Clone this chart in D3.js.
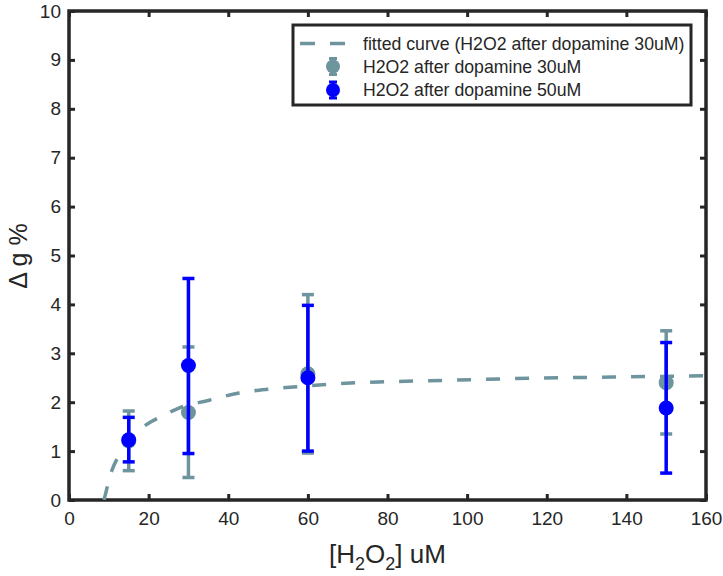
<!DOCTYPE html>
<html>
<head>
<meta charset="utf-8">
<script src="https://cdn.jsdelivr.net/npm/d3@7"></script>
<style>
  body { margin: 0; background: #fff; }
  text { font-family: "Liberation Sans", Arial, sans-serif; fill: #262626; }
</style>
</head>
<body>
<div class="chart"></div>
<script>
// Set H/W/M
const svgWidth = 723;
const svgHeight = 576;
const margin = { top: 11, right: 17, bottom: 76, left: 69 };
const width = svgWidth - margin.left - margin.right;
const height = svgHeight - margin.top - margin.bottom;

// data
const xValues = [15, 30, 60, 150];
const grayMean = [1.21, 1.79, 2.58, 2.40];
const grayLow = [0.60, 0.46, 0.96, 1.35];
const grayHigh = [1.82, 3.13, 4.20, 3.46];
const blueMean = [1.23, 2.75, 2.50, 1.88];
const blueLow = [0.78, 0.95, 1.00, 0.55];
const blueHigh = [1.69, 4.53, 3.98, 3.22];
const fitX = [8.8, 10.8, 12.6, 16.3, 20.6, 23, 27.6, 35.2, 42.7, 50.5, 58, 65.6, 80.7, 95.7, 110, 133, 160];
const fitY = [0, 0.61, 0.92, 1.33, 1.6, 1.7, 1.88, 2.04, 2.19, 2.27, 2.32, 2.37, 2.42, 2.45, 2.48, 2.51, 2.54];
const xTicks = [0, 20, 40, 60, 80, 100, 120, 140, 160];
const yTicks = [0, 1, 2, 3, 4, 5, 6, 7, 8, 9, 10];
const legendLabels = [
  "fitted curve (H2O2 after dopamine 30uM)",
  "H2O2 after dopamine 30uM",
  "H2O2 after dopamine 50uM"
];

const grayColor = "#6e949e";
const blueColor = "#0000ff";
const axisColor = "#262626";

const svg = d3.select(".chart")
  .append("svg")
  .attr("width", svgWidth)
  .attr("height", svgHeight);

const chartGroup = svg.append("g")
  .attr("transform", `translate(${margin.left}, ${margin.top})`);

const x = d3.scaleLinear().domain([0, 160]).range([0, width]);
const y = d3.scaleLinear().domain([0, 10]).range([height, 0]);

// clip for the plotted marks
svg.append("defs").append("clipPath").attr("id", "plotclip")
  .append("rect").attr("width", width).attr("height", height);

// axes (ticks inward, box on all sides)
const tickLen = 6;
function styleAxis(g) {
  g.select(".domain").remove();
  g.selectAll(".tick line").attr("stroke", axisColor).attr("stroke-width", 3);
  g.selectAll(".tick text").attr("font-size", 19).style("fill", axisColor);
}

chartGroup.append("g")
  .attr("transform", `translate(0, ${height})`)
  .call(d3.axisBottom(x).tickValues(xTicks).tickSize(-tickLen).tickPadding(12))
  .call(styleAxis);

chartGroup.append("g")
  .call(d3.axisLeft(y).tickValues(yTicks).tickSize(-tickLen).tickPadding(8))
  .call(styleAxis);

chartGroup.append("g")
  .call(d3.axisTop(x).tickValues(xTicks).tickSize(-tickLen).tickFormat(""))
  .call(styleAxis);

chartGroup.append("g")
  .attr("transform", `translate(${width}, 0)`)
  .call(d3.axisRight(y).tickValues(yTicks).tickSize(-tickLen).tickFormat(""))
  .call(styleAxis);

chartGroup.append("rect")
  .attr("width", width)
  .attr("height", height)
  .attr("fill", "none")
  .attr("stroke", axisColor)
  .attr("stroke-width", 3.5);

const plot = chartGroup.append("g").attr("clip-path", "url(#plotclip)");

// fitted curve
const fitData = fitX.map((d, i) => [d, fitY[i]]);
plot.append("path")
  .datum(fitData)
  .attr("fill", "none")
  .attr("stroke", grayColor)
  .attr("stroke-width", 3.5)
  .attr("stroke-dasharray", "14,15")
  .attr("d", d3.line().x(d => x(d[0])).y(d => y(d[1])).curve(d3.curveMonotoneX));

// error bars + markers
function drawSeries(means, lows, highs, color) {
  const g = plot.append("g");
  const capW = 6;
  xValues.forEach((xv, i) => {
    g.append("line")
      .attr("x1", x(xv)).attr("x2", x(xv))
      .attr("y1", y(lows[i])).attr("y2", y(highs[i]))
      .attr("stroke", color).attr("stroke-width", 3.5);
    [lows[i], highs[i]].forEach(v => {
      g.append("line")
        .attr("x1", x(xv) - capW).attr("x2", x(xv) + capW)
        .attr("y1", y(v)).attr("y2", y(v))
        .attr("stroke", color).attr("stroke-width", 3.5);
    });
  });
  g.selectAll("circle")
    .data(xValues)
    .enter()
    .append("circle")
    .attr("cx", d => x(d))
    .attr("cy", (d, i) => y(means[i]))
    .attr("r", 7.5)
    .attr("fill", color);
}
drawSeries(grayMean, grayLow, grayHigh, grayColor);
drawSeries(blueMean, blueLow, blueHigh, blueColor);

// axis labels
svg.append("text")
  .attr("transform", "translate(27, 256) rotate(-90)")
  .attr("text-anchor", "middle")
  .attr("font-size", 25)
  .text("\u0394 g %");

const xl = svg.append("text")
  .attr("x", margin.left + width / 2)
  .attr("y", 563)
  .attr("text-anchor", "middle")
  .attr("font-size", 26);
xl.append("tspan").text("[H");
xl.append("tspan").attr("font-size", 18).attr("dy", 7).text("2");
xl.append("tspan").attr("dy", -7).text("O");
xl.append("tspan").attr("font-size", 18).attr("dy", 7).text("2");
xl.append("tspan").attr("dy", -7).text("] uM");

// legend
const legend = svg.append("g").attr("transform", "translate(293, 25)");
legend.append("rect")
  .attr("width", 398).attr("height", 80)
  .attr("fill", "#fff")
  .attr("stroke", axisColor)
  .attr("stroke-width", 3);

const rowY = [18.5, 41.5, 65];
legend.append("line")
  .attr("x1", 7).attr("x2", 52)
  .attr("y1", rowY[0]).attr("y2", rowY[0])
  .attr("stroke", grayColor).attr("stroke-width", 3.5)
  .attr("stroke-dasharray", "15,15");

[grayColor, blueColor].forEach((c, i) => {
  const cy = rowY[i + 1];
  legend.append("line")
    .attr("x1", 40).attr("x2", 40).attr("y1", cy - 8).attr("y2", cy + 8)
    .attr("stroke", c).attr("stroke-width", 3);
  [cy - 8, cy + 8].forEach(v => {
    legend.append("line")
      .attr("x1", 36).attr("x2", 44).attr("y1", v).attr("y2", v)
      .attr("stroke", c).attr("stroke-width", 3);
  });
  legend.append("circle").attr("cx", 40).attr("cy", cy).attr("r", 7).attr("fill", c);
});

legend.selectAll("text.lab")
  .data(legendLabels)
  .enter()
  .append("text")
  .attr("class", "lab")
  .attr("x", 70)
  .attr("y", (d, i) => rowY[i] + 6)
  .attr("font-size", 17.7)
  .text(d => d);
</script>
</body>
</html>
